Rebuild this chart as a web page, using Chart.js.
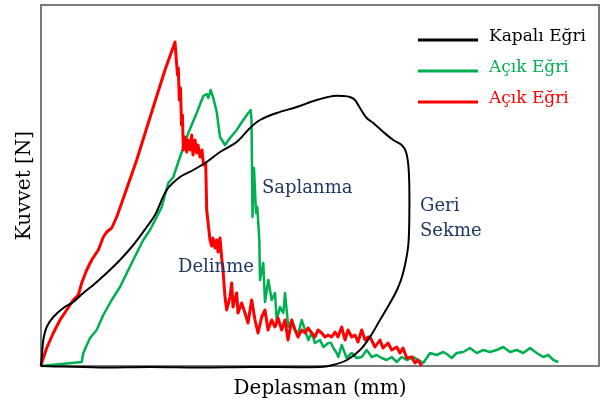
<!DOCTYPE html>
<html lang="tr">
<head>
  <meta charset="utf-8">
  <title>Kuvvet - Deplasman</title>
  <style>
    body { margin: 0; background: #fff; }
    #wrap { width: 609px; height: 407px; }
  </style>
</head>
<body>
  <div id="wrap"><canvas id="myChart"></canvas></div>

  <script src="https://cdn.jsdelivr.net/npm/chart.js@4"></script>
  <script>
    // displacement / force pairs, arbitrary units (no ticks on the axes)
    var closedX = [0, 0.1, 0.23, 0.57, 1.23, 2.23, 3.23, 4.23, 5.23, 6.57, 7.9, 9.23, 10.57, 11.4, 12.57, 13.9, 15.23, 16.57, 17.9, 19.57, 20.9, 21.9, 23.57, 25.57, 27.57, 29.23, 30.23, 30.9, 31.4, 31.9, 32.57, 33.23, 34.23, 35.23, 36.07, 36.5, 36.73, 36.83, 36.83, 36.73, 36.4, 36.0, 35.5, 34.9, 33.9, 32.9, 31.9, 30.6, 29.2, 27.9, 20.9, 15.9, 10.9, 5.9, 0];
    var closedY = [0, 1.1, 2.6, 3.9, 4.9, 5.8, 6.4, 7.3, 8.1, 9.3, 10.6, 12.1, 13.9, 15.1, 17.6, 18.9, 19.6, 20.4, 21.4, 22.4, 23.8, 24.6, 25.3, 25.9, 26.6, 27.0, 27.0, 26.9, 26.6, 25.8, 24.8, 24.3, 23.4, 22.6, 22.1, 21.4, 20.1, 18.1, 14.8, 12.1, 10.1, 8.6, 7.4, 6.3, 4.6, 2.9, 1.6, 0.6, 0.1, -0.1, -0.1, -0.15, -0.1, -0.15, 0];

    var greenX = [0, 4.07, 4.23, 4.9, 5.57, 6.23, 7.07, 7.9, 8.73, 9.57, 10.23, 10.9, 11.57, 12.07, 12.73, 13.23, 13.9, 14.73, 15.57, 16.23, 16.57, 16.73, 16.97, 17.23, 17.57, 17.9, 18.4, 18.9, 19.57, 20.23, 20.73, 20.97, 21.05, 21.15, 21.3, 21.5, 21.63, 21.83, 21.9, 22.23, 22.4, 22.73, 23.07, 23.4, 23.57, 23.9, 24.23, 24.4, 24.73, 25.07, 25.4, 25.73, 26.07, 26.4, 26.73, 27.07, 27.4, 27.9, 28.23, 28.73, 29.0, 29.23, 29.57, 29.73, 30.07, 30.57, 31.07, 31.57, 32.07, 32.57, 33.07, 33.57, 34.07, 34.57, 35.07, 35.57, 36.07, 36.57, 37.23, 37.73, 38.23, 38.9, 39.57, 40.23, 40.57, 41.07, 41.57, 42.23, 42.9, 43.57, 44.23, 44.9, 45.57, 46.23, 46.9, 47.57, 48.23, 48.9, 49.57, 50.23, 50.73, 51.23, 51.73];
    var greenY = [0, 0.4, 1.3, 2.8, 3.6, 5.1, 6.6, 7.9, 9.6, 11.3, 12.6, 13.6, 14.9, 15.9, 18.3, 18.9, 20.9, 23.3, 25.3, 27.0, 27.2, 26.8, 27.6, 26.8, 25.4, 22.9, 22.1, 22.8, 23.6, 24.6, 25.3, 25.6, 24.6, 14.9, 19.8, 15.3, 15.9, 12.6, 8.6, 10.3, 6.4, 8.6, 6.6, 7.3, 4.6, 5.9, 5.3, 7.3, 3.9, 4.6, 3.6, 3.3, 4.6, 3.6, 2.6, 3.3, 2.3, 2.6, 1.9, 2.3, 2.3, 1.8, 1.3, 0.9, 2.1, 0.8, 1.3, 0.8, 0.9, 1.6, 0.9, 1.1, 0.8, 0.6, 0.9, 0.4, 0.9, 0.6, 0.9, 0.6, 0.3, 1.3, 1.1, 1.4, 1.2, 0.8, 1.3, 1.4, 1.8, 1.3, 1.6, 1.4, 1.6, 1.9, 1.4, 1.6, 1.3, 1.8, 1.3, 0.9, 1.1, 0.6, 0.4];

    var redX = [0, 0.1, 0.57, 1.23, 1.9, 2.57, 3.23, 3.73, 4.07, 4.57, 5.07, 5.73, 6.23, 6.57, 7.07, 7.57, 8.07, 9.57, 11.23, 12.4, 13.4, 13.55, 13.65, 13.73, 13.83, 13.95, 14.05, 14.15, 14.23, 14.4, 14.57, 14.7, 14.9, 15.07, 15.2, 15.4, 15.57, 15.7, 15.9, 16.1, 16.25, 16.47, 16.57, 16.7, 16.9, 17.07, 17.2, 17.4, 17.57, 17.7, 17.9, 18.07, 18.2, 18.4, 18.57, 18.9, 19.07, 19.2, 19.57, 19.7, 20.07, 20.4, 20.7, 21.07, 21.4, 21.7, 22.07, 22.4, 22.7, 23.07, 23.4, 23.7, 24.07, 24.4, 24.7, 25.07, 25.4, 25.7, 26.07, 26.4, 26.7, 27.07, 27.4, 27.7, 28.07, 28.4, 28.7, 29.07, 29.4, 29.7, 30.07, 30.4, 30.7, 31.07, 31.4, 31.7, 32.07, 32.4, 32.7, 32.9, 33.4, 33.9, 34.2, 34.7, 35.07, 35.57, 35.9, 36.2, 36.57, 37.07, 37.4, 37.7, 38.07];
    var redY = [0, 0.4, 1.8, 3.3, 4.6, 5.6, 6.6, 7.1, 8.3, 9.6, 10.6, 11.6, 12.9, 13.4, 13.8, 14.9, 16.3, 20.6, 25.9, 29.6, 32.4, 30.4, 29.1, 29.8, 26.6, 27.8, 24.1, 25.1, 21.6, 22.9, 21.4, 22.6, 21.6, 23.1, 21.1, 22.6, 21.3, 22.1, 20.9, 21.6, 20.1, 20.3, 15.6, 14.4, 12.6, 12.0, 12.8, 11.8, 12.6, 11.4, 12.8, 10.8, 9.6, 6.9, 5.6, 6.9, 8.3, 5.9, 7.3, 5.3, 6.3, 5.3, 4.3, 6.6, 4.6, 3.3, 4.9, 5.6, 3.6, 4.6, 3.9, 4.8, 3.6, 4.6, 2.6, 4.6, 3.6, 2.9, 3.6, 3.3, 3.8, 3.3, 2.9, 3.6, 3.3, 2.9, 3.1, 2.9, 3.4, 2.9, 3.9, 2.6, 3.6, 2.9, 3.1, 2.4, 3.6, 2.6, 2.9, 2.9, 1.9, 2.6, 1.8, 2.3, 1.6, 1.9, 1.3, 1.8, 0.8, 0.9, 0.3, 0.6, 0];

    var seriesNames = ['Kapalı Eğri', 'Açık Eğri', 'Açık Eğri'];
    var seriesColors = ['#000000', '#00B050', '#FF0000'];

    // text notes placed in data units
    var notes = [
      { text: 'Saplanma', x: 22.1, y: 17.3 },
      { text: 'Delinme', x: 13.7, y: 9.4 },
      { text: 'Geri', x: 37.9, y: 15.5 },
      { text: 'Sekme', x: 37.9, y: 13.0 }
    ];

    function pairs(xs, ys) {
      return xs.map(function (x, i) { return { x: x, y: ys[i] }; });
    }

    // frame, inline legend and the notes
    var decor = {
      id: 'decor',
      beforeDatasetsDraw: function (chart) {
        var a = chart.chartArea, ctx = chart.ctx;
        ctx.save();
        ctx.strokeStyle = '#7a7a7a';
        ctx.lineWidth = 2;
        ctx.strokeRect(a.left, a.top, a.right - a.left, a.bottom - a.top);
        ctx.restore();
      },
      afterDatasetsDraw: function (chart) {
        var ctx = chart.ctx;
        var xs = chart.scales.x, ys = chart.scales.y;
        ctx.save();
        ctx.font = '17px "DejaVu Serif"';
        ctx.textBaseline = 'alphabetic';
        chart.data.datasets.forEach(function (ds, i) {
          var ly = 40 + i * 31;
          ctx.strokeStyle = ds.borderColor;
          ctx.lineWidth = 3;
          ctx.beginPath();
          ctx.moveTo(418, ly);
          ctx.lineTo(478, ly);
          ctx.stroke();
          ctx.fillStyle = ds.borderColor;
          ctx.fillText(ds.label, 489, ly + 1);
        });
        ctx.font = '18px "DejaVu Serif"';
        ctx.fillStyle = '#1F3864';
        notes.forEach(function (n) {
          ctx.fillText(n.text, xs.getPixelForValue(n.x), ys.getPixelForValue(n.y));
        });
        ctx.restore();
      }
    };

    Chart.defaults.font.family = '"DejaVu Serif", serif';

    var ctx = document.getElementById('myChart').getContext('2d');
    var chart = new Chart(ctx, {
      type: 'scatter',
      data: {
        datasets: [
          { label: seriesNames[0], data: pairs(closedX, closedY), borderColor: seriesColors[0], borderWidth: 2, tension: 0.35, order: 1 },
          { label: seriesNames[1], data: pairs(greenX, greenY), borderColor: seriesColors[1], borderWidth: 2.5, order: 3 },
          { label: seriesNames[2], data: pairs(redX, redY), borderColor: seriesColors[2], borderWidth: 3, order: 2 }
        ]
      },
      options: {
        responsive: true,
        maintainAspectRatio: false,
        animation: false,
        showLine: true,
        clip: 4,
        elements: { point: { radius: 0, hoverRadius: 0 }, line: { borderJoinStyle: 'round' } },
        layout: { padding: { left: 1, top: 5, right: 10, bottom: 0 } },
        plugins: { legend: { display: false }, tooltip: { enabled: false } },
        scales: {
          x: {
            type: 'linear', min: 0, max: 55.8,
            grid: { display: false, drawTicks: false },
            border: { display: false },
            ticks: { display: false },
            title: { display: true, text: 'Deplasman (mm)', color: '#000', font: { size: 20 }, padding: { top: 11, bottom: 6 } }
          },
          y: {
            type: 'linear', min: 0, max: 36.1,
            grid: { display: false, drawTicks: false },
            border: { display: false },
            ticks: { display: false },
            title: { display: true, text: 'Kuvvet [N]', color: '#000', font: { size: 20 }, padding: { top: 12, bottom: 4 } }
          }
        }
      },
      plugins: [decor]
    });
  </script>
</body>
</html>
